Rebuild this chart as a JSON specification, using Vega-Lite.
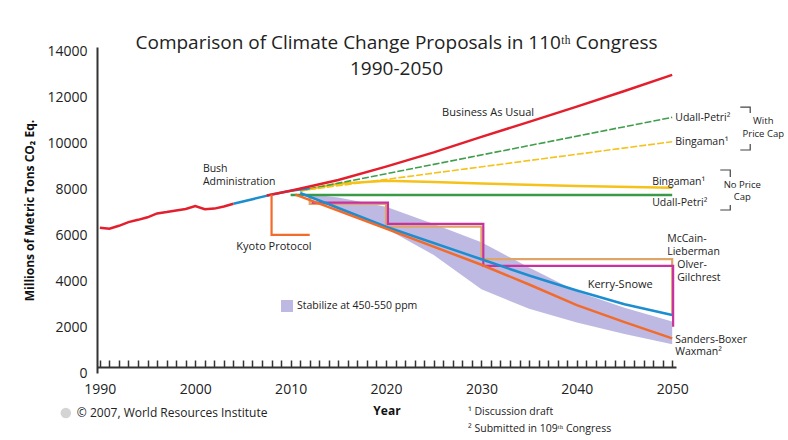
{
  "$schema": "https://vega.github.io/schema/vega-lite/v6.json",
  "width": 579,
  "height": 326,
  "autosize": {"type": "none"},
  "padding": {"left": 97, "top": 47, "right": 112, "bottom": 67},
  "background": "white",
  "config": {"view": {"stroke": null}, "font": "Open Sans"},
  "title": {
    "text": ["Comparison of Climate Change Proposals in 110ᵗʰ Congress", "1990-2050"],
    "font": "Open Sans",
    "fontSize": 19,
    "fontWeight": "normal",
    "color": "#222",
    "anchor": "middle",
    "lineHeight": 26,
    "dx": 10,
    "dy": 38
  },
  "datasets": {
    "lines": [
      {"series": "Historical", "i": 1, "year": 1990, "value": 6330},
      {"series": "Historical", "i": 2, "year": 1991, "value": 6290},
      {"series": "Historical", "i": 3, "year": 1992, "value": 6420},
      {"series": "Historical", "i": 4, "year": 1993, "value": 6580},
      {"series": "Historical", "i": 5, "year": 1994, "value": 6680},
      {"series": "Historical", "i": 6, "year": 1995, "value": 6790},
      {"series": "Historical", "i": 7, "year": 1996, "value": 6960},
      {"series": "Historical", "i": 8, "year": 1997, "value": 7020},
      {"series": "Historical", "i": 9, "year": 1998, "value": 7090},
      {"series": "Historical", "i": 10, "year": 1999, "value": 7150},
      {"series": "Historical", "i": 11, "year": 2000, "value": 7280},
      {"series": "Historical", "i": 12, "year": 2001, "value": 7140},
      {"series": "Historical", "i": 13, "year": 2002, "value": 7170},
      {"series": "Historical", "i": 14, "year": 2003, "value": 7260},
      {"series": "Historical", "i": 15, "year": 2004, "value": 7380},
      {"series": "Bush Administration", "i": 1, "year": 2004, "value": 7380},
      {"series": "Bush Administration", "i": 2, "year": 2006, "value": 7580},
      {"series": "Bush Administration", "i": 3, "year": 2008, "value": 7780},
      {"series": "Bush Administration", "i": 4, "year": 2010, "value": 7950},
      {"series": "Bush Administration", "i": 5, "year": 2012, "value": 8060},
      {"series": "Business As Usual", "i": 1, "year": 2007.5, "value": 7740},
      {"series": "Business As Usual", "i": 2, "year": 2010, "value": 7950},
      {"series": "Business As Usual", "i": 3, "year": 2015, "value": 8420},
      {"series": "Business As Usual", "i": 4, "year": 2020, "value": 9000},
      {"series": "Business As Usual", "i": 5, "year": 2025, "value": 9620},
      {"series": "Business As Usual", "i": 6, "year": 2030, "value": 10300},
      {"series": "Business As Usual", "i": 7, "year": 2035, "value": 10950},
      {"series": "Business As Usual", "i": 8, "year": 2040, "value": 11620},
      {"series": "Business As Usual", "i": 9, "year": 2045, "value": 12300},
      {"series": "Business As Usual", "i": 10, "year": 2050, "value": 13000},
      {"series": "Udall-Petri (price cap)", "i": 1, "year": 2011, "value": 7950},
      {"series": "Udall-Petri (price cap)", "i": 2, "year": 2050, "value": 11150},
      {"series": "Bingaman (price cap)", "i": 1, "year": 2011, "value": 7950},
      {"series": "Bingaman (price cap)", "i": 2, "year": 2050, "value": 10088},
      {"series": "Bingaman (no price cap)", "i": 1, "year": 2011, "value": 7950},
      {"series": "Bingaman (no price cap)", "i": 2, "year": 2015, "value": 8250},
      {"series": "Bingaman (no price cap)", "i": 3, "year": 2020, "value": 8380},
      {"series": "Bingaman (no price cap)", "i": 4, "year": 2025, "value": 8330},
      {"series": "Bingaman (no price cap)", "i": 5, "year": 2030, "value": 8260},
      {"series": "Bingaman (no price cap)", "i": 6, "year": 2040, "value": 8160},
      {"series": "Bingaman (no price cap)", "i": 7, "year": 2050, "value": 8080},
      {"series": "Udall-Petri (no price cap)", "i": 1, "year": 2010, "value": 7760},
      {"series": "Udall-Petri (no price cap)", "i": 2, "year": 2050, "value": 7760},
      {"series": "Kyoto Protocol", "i": 1, "year": 2008, "value": 7780},
      {"series": "Kyoto Protocol", "i": 2, "year": 2008, "value": 6020},
      {"series": "Kyoto Protocol", "i": 3, "year": 2012, "value": 6020},
      {"series": "McCain-Lieberman", "i": 1, "year": 2012, "value": 7700},
      {"series": "McCain-Lieberman", "i": 2, "year": 2012, "value": 7380},
      {"series": "McCain-Lieberman", "i": 3, "year": 2020, "value": 7380},
      {"series": "McCain-Lieberman", "i": 4, "year": 2020, "value": 6380},
      {"series": "McCain-Lieberman", "i": 5, "year": 2030, "value": 6380},
      {"series": "McCain-Lieberman", "i": 6, "year": 2030, "value": 4970},
      {"series": "McCain-Lieberman", "i": 7, "year": 2050, "value": 4970},
      {"series": "McCain-Lieberman", "i": 8, "year": 2050, "value": 2530},
      {"series": "Olver-Gilchrest", "i": 1, "year": 2012.2, "value": 7430},
      {"series": "Olver-Gilchrest", "i": 2, "year": 2020.2, "value": 7430},
      {"series": "Olver-Gilchrest", "i": 3, "year": 2020.2, "value": 6500},
      {"series": "Olver-Gilchrest", "i": 4, "year": 2030.2, "value": 6500},
      {"series": "Olver-Gilchrest", "i": 5, "year": 2030.2, "value": 4670},
      {"series": "Olver-Gilchrest", "i": 6, "year": 2050.1, "value": 4670},
      {"series": "Olver-Gilchrest", "i": 7, "year": 2050.1, "value": 2020},
      {"series": "Kerry-Snowe", "i": 1, "year": 2011, "value": 7850},
      {"series": "Kerry-Snowe", "i": 2, "year": 2020, "value": 6380},
      {"series": "Kerry-Snowe", "i": 3, "year": 2030, "value": 4960},
      {"series": "Kerry-Snowe", "i": 4, "year": 2035, "value": 4250},
      {"series": "Kerry-Snowe", "i": 5, "year": 2040, "value": 3600},
      {"series": "Kerry-Snowe", "i": 6, "year": 2045, "value": 3000},
      {"series": "Kerry-Snowe", "i": 7, "year": 2050, "value": 2530},
      {"series": "Sanders-Boxer Waxman", "i": 1, "year": 2010.5, "value": 7780},
      {"series": "Sanders-Boxer Waxman", "i": 2, "year": 2020, "value": 6300},
      {"series": "Sanders-Boxer Waxman", "i": 3, "year": 2030, "value": 4720},
      {"series": "Sanders-Boxer Waxman", "i": 4, "year": 2035, "value": 3860},
      {"series": "Sanders-Boxer Waxman", "i": 5, "year": 2040, "value": 2960},
      {"series": "Sanders-Boxer Waxman", "i": 6, "year": 2045, "value": 2220},
      {"series": "Sanders-Boxer Waxman", "i": 7, "year": 2050, "value": 1510}
    ],
    "band": [
      {"year": 2012, "value": 7750, "hi": 7800},
      {"year": 2015, "value": 7100, "hi": 7650},
      {"year": 2020, "value": 6300, "hi": 7250},
      {"year": 2025, "value": 5150, "hi": 6500},
      {"year": 2030, "value": 3650, "hi": 5700},
      {"year": 2035, "value": 2800, "hi": 4600},
      {"year": 2040, "value": 2200, "hi": 3550},
      {"year": 2045, "value": 1700, "hi": 2850},
      {"year": 2050, "value": 1250, "hi": 2250}
    ],
    "labelsLeft": [
      {"label": "Bush", "year": 2000.8, "value": 8896},
      {"label": "Administration", "year": 2000.8, "value": 8330},
      {"label": "Udall-Petri²", "year": 2050.32, "value": 11121},
      {"label": "Bingaman¹", "year": 2050.32, "value": 10074},
      {"label": "Bingaman¹", "year": 2047.9, "value": 8330},
      {"label": "Udall-Petri²", "year": 2047.9, "value": 7414},
      {"label": "McCain-", "year": 2049.48, "value": 5844},
      {"label": "Lieberman", "year": 2049.48, "value": 5277},
      {"label": "Olver-", "year": 2050.53, "value": 4710},
      {"label": "Gilchrest", "year": 2050.53, "value": 4143},
      {"label": "Sanders-Boxer", "year": 2050.32, "value": 1460},
      {"label": "Waxman²", "year": 2050.32, "value": 900},
      {"label": "Stabilize at 450-550 ppm", "year": 2010.67, "value": 2922}
    ],
    "labelsCenter": [
      {"label": "Business As Usual", "year": 2030.7, "value": 11339},
      {"label": "Kyoto Protocol", "year": 2008.25, "value": 5495},
      {"label": "Kerry-Snowe", "year": 2044.55, "value": 3838}
    ],
    "bracketText": [
      {"label": "With", "year": 2059.55, "value": 10990},
      {"label": "Price Cap", "year": 2059.55, "value": 10440},
      {"label": "No Price", "year": 2057.35, "value": 8220},
      {"label": "Cap", "year": 2057.35, "value": 7675}
    ],
    "brackets": [
      {"bracket": "a", "i": 1, "year": 2057.14, "value": 11600},
      {"bracket": "a", "i": 2, "year": 2058.18, "value": 11600},
      {"bracket": "a", "i": 3, "year": 2058.18, "value": 11339},
      {"bracket": "b", "i": 1, "year": 2058.18, "value": 9987},
      {"bracket": "b", "i": 2, "year": 2058.18, "value": 9725},
      {"bracket": "b", "i": 3, "year": 2057.14, "value": 9725},
      {"bracket": "c", "i": 1, "year": 2055.04, "value": 8853},
      {"bracket": "c", "i": 2, "year": 2056.09, "value": 8853},
      {"bracket": "c", "i": 3, "year": 2056.09, "value": 8548},
      {"bracket": "d", "i": 1, "year": 2056.09, "value": 7326},
      {"bracket": "d", "i": 2, "year": 2056.09, "value": 7108},
      {"bracket": "d", "i": 3, "year": 2055.04, "value": 7108}
    ],
    "swatch": [{"item": "Stabilize at 450-550 ppm", "year": 2009.62, "value": 2922}],
    "credit": [{"label": "© 2007, World Resources Institute", "year": 1987.59, "value": -1744}],
    "logo": [{"item": "WRI", "year": 1986.43, "value": -1744}],
    "notes": [
      {"label": "¹ Discussion draft", "year": 2028.6, "value": -1701},
      {"label": "² Submitted in 109ᵗʰ Congress", "year": 2028.6, "value": -2442}
    ]
  },
  "data": {"name": "lines"},
  "encoding": {
    "x": {
      "field": "year",
      "type": "quantitative",
      "scale": {"domain": [1989.7, 2050.4], "nice": false, "zero": false},
      "axis": {
        "title": "Year",
        "values": [1990,1991,1992,1993,1994,1995,1996,1997,1998,1999,2000,2001,2002,2003,2004,2005,2006,2007,2008,2009,2010,2011,2012,2013,2014,2015,2016,2017,2018,2019,2020,2021,2022,2023,2024,2025,2026,2027,2028,2029,2030,2031,2032,2033,2034,2035,2036,2037,2038,2039,2040,2041,2042,2043,2044,2045,2046,2047,2048,2049,2050],
        "format": "d",
        "labelExpr": "datum.value % 10 === 0 ? datum.label : ''",
        "labelOverlap": false,
        "labelFlush": false,
        "grid": false,
        "offset": -6,
        "tickSize": -7,
        "tickColor": "#333",
        "tickWidth": 1.5,
        "domainColor": "#333",
        "domainWidth": 2,
        "labelFontSize": 14,
        "labelColor": "#222",
        "labelPadding": 22,
        "titleFontSize": 12,
        "titleFontWeight": "bold",
        "titleColor": "#111",
        "titlePadding": 9
      }
    },
    "y": {
      "field": "value",
      "type": "quantitative",
      "scale": {"domain": [0, 14218], "nice": false, "zero": false},
      "axis": {
        "title": "Millions of Metric Tons CO₂ Eq.",
        "values": [0, 2000, 4000, 6000, 8000, 10000, 12000, 14000],
        "format": "d",
        "grid": false,
        "ticks": false,
        "labelPadding": 10,
        "labelFontSize": 14,
        "labelColor": "#222",
        "domainColor": "#333",
        "domainWidth": 2,
        "titleFontSize": 12,
        "titleFontWeight": "bold",
        "titleColor": "#111",
        "titlePadding": 10
      }
    }
  },
  "layer": [
    {"data": {"name": "band"}, "mark": {"type": "area", "color": "#BEB9E2", "opacity": 1}, "encoding": {"y2": {"field": "hi"}}},
    {"transform": [{"filter": {"field": "series", "equal": "Udall-Petri (no price cap)"}}], "mark": {"type": "line", "color": "#3A9A45", "strokeWidth": 2.5}, "encoding": {"order": {"field": "i"}}},
    {"transform": [{"filter": {"field": "series", "equal": "Bingaman (no price cap)"}}], "mark": {"type": "line", "color": "#F5C21B", "strokeWidth": 2.5}, "encoding": {"order": {"field": "i"}}},
    {"transform": [{"filter": {"field": "series", "equal": "Udall-Petri (price cap)"}}], "mark": {"type": "line", "color": "#3F9E4A", "strokeWidth": 1.6, "strokeDash": [7, 2]}, "encoding": {"order": {"field": "i"}}},
    {"transform": [{"filter": {"field": "series", "equal": "Bingaman (price cap)"}}], "mark": {"type": "line", "color": "#F5C21B", "strokeWidth": 1.6, "strokeDash": [7, 2]}, "encoding": {"order": {"field": "i"}}},
    {"transform": [{"filter": {"field": "series", "equal": "Bush Administration"}}], "mark": {"type": "line", "color": "#1C8ED0", "strokeWidth": 2.5}, "encoding": {"order": {"field": "i"}}},
    {"transform": [{"filter": {"field": "series", "equal": "Historical"}}], "mark": {"type": "line", "color": "#E31E2D", "strokeWidth": 2.5}, "encoding": {"order": {"field": "i"}}},
    {"transform": [{"filter": {"field": "series", "equal": "Business As Usual"}}], "mark": {"type": "line", "color": "#E31E2D", "strokeWidth": 2.5}, "encoding": {"order": {"field": "i"}}},
    {"transform": [{"filter": {"field": "series", "equal": "Kyoto Protocol"}}], "mark": {"type": "line", "color": "#F26B2A", "strokeWidth": 2.2}, "encoding": {"order": {"field": "i"}}},
    {"transform": [{"filter": {"field": "series", "equal": "McCain-Lieberman"}}], "mark": {"type": "line", "color": "#E0A468", "strokeWidth": 2.2}, "encoding": {"order": {"field": "i"}}},
    {"transform": [{"filter": {"field": "series", "equal": "Olver-Gilchrest"}}], "mark": {"type": "line", "color": "#C8329E", "strokeWidth": 2.2}, "encoding": {"order": {"field": "i"}}},
    {"transform": [{"filter": {"field": "series", "equal": "Kerry-Snowe"}}], "mark": {"type": "line", "color": "#1C8ED0", "strokeWidth": 2.5}, "encoding": {"order": {"field": "i"}}},
    {"transform": [{"filter": {"field": "series", "equal": "Sanders-Boxer Waxman"}}], "mark": {"type": "line", "color": "#F26B2A", "strokeWidth": 2.5}, "encoding": {"order": {"field": "i"}}},
    {"data": {"name": "brackets"}, "mark": {"type": "line", "color": "#444", "strokeWidth": 1.2}, "encoding": {"detail": {"field": "bracket"}, "order": {"field": "i"}}},
    {"data": {"name": "swatch"}, "mark": {"type": "point", "shape": "square", "filled": true, "size": 144, "color": "#BEB9E2", "opacity": 1}},
    {"data": {"name": "labelsLeft"}, "mark": {"type": "text", "align": "left", "baseline": "middle", "fontSize": 10.5, "color": "#222", "font": "Open Sans"}, "encoding": {"text": {"field": "label"}}},
    {"data": {"name": "labelsCenter"}, "mark": {"type": "text", "align": "center", "baseline": "middle", "fontSize": 11, "color": "#222", "font": "Open Sans"}, "encoding": {"text": {"field": "label"}}},
    {"data": {"name": "bracketText"}, "mark": {"type": "text", "align": "center", "baseline": "middle", "fontSize": 9.5, "color": "#222", "font": "Open Sans"}, "encoding": {"text": {"field": "label"}}},
    {"data": {"name": "logo"}, "mark": {"type": "point", "shape": "circle", "filled": true, "size": 110, "color": "#D4D4D4", "opacity": 1}},
    {"data": {"name": "credit"}, "mark": {"type": "text", "align": "left", "baseline": "middle", "fontSize": 12, "color": "#222", "font": "Open Sans"}, "encoding": {"text": {"field": "label"}}},
    {"data": {"name": "notes"}, "mark": {"type": "text", "align": "left", "baseline": "middle", "fontSize": 10.5, "color": "#222", "font": "Open Sans"}, "encoding": {"text": {"field": "label"}}}
  ]
}
